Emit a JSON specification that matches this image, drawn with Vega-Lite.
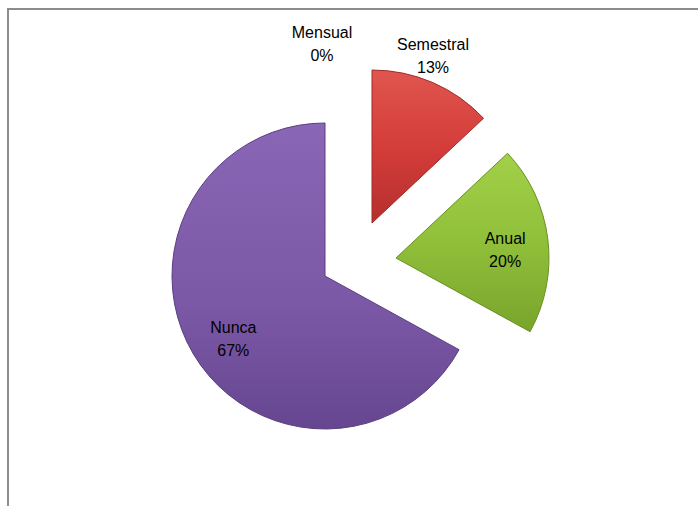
{
  "$schema": "https://vega.github.io/schema/vega-lite/v6.json",
  "width": 700,
  "height": 510,
  "autosize": {"type": "none"},
  "padding": {"left": 8, "top": 9, "right": 0, "bottom": 0},
  "background": "white",
  "config": {"view": {"stroke": null}},
  "data": {
    "values": [
      {"cat": "Mensual", "pct": 0, "label": "Mensual\n0%"},
      {"cat": "Semestral", "pct": 13, "label": "Semestral\n13%"},
      {"cat": "Anual", "pct": 20, "label": "Anual\n20%"},
      {"cat": "Nunca", "pct": 67, "label": "Nunca\n67%"}
    ]
  },
  "layer": [
    {
      "transform": [{"filter": "datum.cat === 'Nunca'"}],
      "mark": {"type": "rect", "fill": null, "stroke": "#8c8c8c", "strokeWidth": 2},
      "encoding": {}
    },
    {
      "encoding": {
        "theta": {"field": "pct", "type": "quantitative", "stack": true},
        "order": {"field": "pct", "type": "quantitative"}
      },
      "layer": [
        {
          "mark": {
            "type": "arc", "radius": 153, "xOffset": -33, "yOffset": 12,
            "stroke": "#5a3f80", "strokeWidth": 1,
            "color": {"gradient": "linear", "x1": 0, "y1": 0, "x2": 0, "y2": 1,
              "stops": [{"offset": 0, "color": "#8a66b6"}, {"offset": 0.6, "color": "#7b58a6"}, {"offset": 1, "color": "#664690"}]}
          },
          "encoding": {
            "opacity": {"condition": {"test": "datum.cat === 'Nunca'", "value": 1}, "value": 0}
          }
        },
        {
          "mark": {
            "type": "arc", "radius": 153, "xOffset": 14, "yOffset": -41,
            "stroke": "#9e2a28", "strokeWidth": 1,
            "color": {"gradient": "linear", "x1": 0, "y1": 0, "x2": 0, "y2": 1,
              "stops": [{"offset": 0, "color": "#e0564f"}, {"offset": 0.5, "color": "#d43d3a"}, {"offset": 1, "color": "#b52f2d"}]}
          },
          "encoding": {
            "opacity": {"condition": {"test": "datum.cat === 'Semestral'", "value": 1}, "value": 0}
          }
        },
        {
          "mark": {
            "type": "arc", "radius": 153, "xOffset": 38, "yOffset": -6,
            "stroke": "#6a8f22", "strokeWidth": 1,
            "color": {"gradient": "linear", "x1": 0, "y1": 0, "x2": 0, "y2": 1,
              "stops": [{"offset": 0, "color": "#a2d048"}, {"offset": 0.5, "color": "#90bf3a"}, {"offset": 1, "color": "#79a42c"}]}
          },
          "encoding": {
            "opacity": {"condition": {"test": "datum.cat === 'Anual'", "value": 1}, "value": 0}
          }
        },
        {
          "mark": {"type": "text", "radius": 170, "xOffset": -36, "yOffset": -61.5, "font": "Liberation Sans, Arial", "fontSize": 16, "lineHeight": 23, "lineBreak": "\n", "baseline": "middle", "align": "center", "color": "#000000"},
          "encoding": {
            "text": {"field": "label"},
            "opacity": {"condition": {"test": "datum.cat === 'Mensual'", "value": 1}, "value": 0}
          }
        },
        {
          "mark": {"type": "text", "radius": 170, "xOffset": 7.5, "yOffset": -62.5, "font": "Liberation Sans, Arial", "fontSize": 16, "lineHeight": 23, "lineBreak": "\n", "baseline": "middle", "align": "center", "color": "#000000"},
          "encoding": {
            "text": {"field": "label"},
            "opacity": {"condition": {"test": "datum.cat === 'Semestral'", "value": 1}, "value": 0}
          }
        },
        {
          "mark": {"type": "text", "radius": 110, "xOffset": 38, "yOffset": -11.5, "font": "Liberation Sans, Arial", "fontSize": 16, "lineHeight": 23, "lineBreak": "\n", "baseline": "middle", "align": "center", "color": "#000000"},
          "encoding": {
            "text": {"field": "label"},
            "opacity": {"condition": {"test": "datum.cat === 'Anual'", "value": 1}, "value": 0}
          }
        },
        {
          "mark": {"type": "text", "radius": 110, "xOffset": -30, "yOffset": 8.5, "font": "Liberation Sans, Arial", "fontSize": 16, "lineHeight": 23, "lineBreak": "\n", "baseline": "middle", "align": "center", "color": "#000000"},
          "encoding": {
            "text": {"field": "label"},
            "opacity": {"condition": {"test": "datum.cat === 'Nunca'", "value": 1}, "value": 0}
          }
        }
      ]
    }
  ]
}
